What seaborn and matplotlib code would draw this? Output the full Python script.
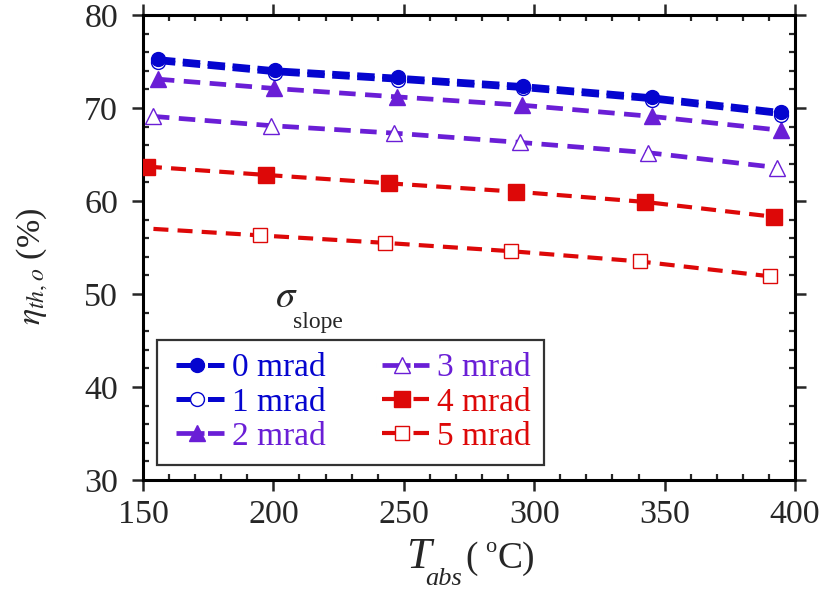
import matplotlib
matplotlib.use("Agg")
import matplotlib.pyplot as plt
from matplotlib.ticker import MultipleLocator
import seaborn as sns
import pandas as pd

# ---- data ----
labels = ["0 mrad", "1 mrad", "2 mrad", "3 mrad", "4 mrad", "5 mrad"]
x0 = [155.7, 200.8, 247.7, 295.8, 345.0, 394.7]
y0 = [75.3, 74.1, 73.3, 72.4, 71.2, 69.6]
x1 = [155.7, 200.8, 247.7, 295.8, 345.0, 394.7]
y1 = [75.0, 73.8, 73.0, 72.1, 70.9, 69.3]
x2 = [155.7, 200.4, 247.3, 295.4, 345.0, 394.7]
y2 = [73.1, 72.1, 71.2, 70.3, 69.1, 67.6]
x3 = [153.8, 199.2, 246.2, 294.6, 343.5, 393.0]
y3 = [69.1, 68.1, 67.3, 66.3, 65.2, 63.6]
x4 = [151.5, 197.3, 244.3, 293.1, 342.4, 392.0]
y4 = [63.7, 62.8, 61.9, 61.0, 59.9, 58.3]
x5 = [154.0, 195.0, 242.7, 291.2, 340.5, 390.5]
y5 = [57.0, 56.3, 55.5, 54.6, 53.5, 51.9]
xs = [x0, x1, x2, x3, x4, x5]
ys = [y0, y1, y2, y3, y4, y5]

blue = "#0505CF"
purple = "#6A1ED6"
red = "#DD0808"
colors = [blue, blue, purple, purple, red, red]

sns.set_style("ticks")
plt.rcParams["font.family"] = ["Liberation Serif", "DejaVu Serif"]
plt.rcParams["mathtext.fontset"] = "stix"

W, H = 824, 596
fig = plt.figure(figsize=(W / 100, H / 100), dpi=100)
ax = fig.add_axes([143 / W, 1 - 480 / H, (795 - 143) / W, (480 - 15) / H])


def fpx(x, y):
    return x / W, 1 - y / H


styles = [
    dict(marker="o", ms=10, mfc=blue, mec=blue, mew=1.0, lw=3.6, ls=(0, (3.5, 1.5)), z=6),
    dict(marker="o", ms=10, mfc="white", mec=blue, mew=1.0, lw=3.6, ls=(0, (3.5, 1.5)), z=5),
    dict(marker="^", ms=11, mfc=purple, mec=purple, mew=1.0, lw=3.4, ls=(0, (3.5, 2.0)), z=4),
    dict(marker="^", ms=11, mfc="white", mec=purple, mew=1.0, lw=3.4, ls=(0, (3.5, 2.0)), z=4),
    dict(marker="s", ms=11, mfc=red, mec=red, mew=1.0, lw=3.0, ls=(0, (3.6, 2.2)), z=4),
    dict(marker="s", ms=10, mfc="white", mec=red, mew=1.0, lw=3.0, ls=(0, (3.6, 2.2)), z=4),
]

for i in range(6):
    st = styles[i]
    df = pd.DataFrame({"T": xs[i], "eta": ys[i]})
    extra = {}
    if i == 5:
        extra["markevery"] = [1, 2, 3, 4, 5]
    sns.lineplot(data=df, x="T", y="eta", ax=ax, color=colors[i], label=labels[i],
                 marker=st["marker"], markersize=st["ms"], markerfacecolor=st["mfc"],
                 markeredgecolor=st["mec"], markeredgewidth=st["mew"],
                 linewidth=st["lw"], linestyle=st["ls"], zorder=st["z"],
                 sort=False, estimator=None, **extra)

ax.set_xlim(150, 400)
ax.set_ylim(30, 80)
ax.xaxis.set_major_locator(MultipleLocator(50))
ax.xaxis.set_minor_locator(MultipleLocator(10))
ax.yaxis.set_major_locator(MultipleLocator(10))
ax.yaxis.set_minor_locator(MultipleLocator(2))
ax.tick_params(which="major", direction="out", length=8, width=1.8, labelsize=24.5,
               top=True, right=True)
ax.tick_params(axis="x", which="major", pad=6)
ax.tick_params(axis="y", which="major", pad=10)
ax.tick_params(which="minor", direction="in", length=4, width=1.6, top=True, right=True)
for sp in ax.spines.values():
    sp.set_linewidth(2.2)
    sp.set_color("black")
    sp.set_visible(True)

ax.set_xlabel("")
ax.set_ylabel("")

# x label: T_abs ( oC)
fig.text(*fpx(406, 568), "T", fontsize=32, style="italic", ha="left", va="baseline")
fig.text(*fpx(425, 585), "abs", fontsize=19, style="italic", ha="left", va="baseline")
fig.text(*fpx(465, 568), "(", fontsize=27, ha="left", va="baseline")
fig.text(*fpx(485, 552), "o", fontsize=16, ha="left", va="baseline")
fig.text(*fpx(498, 568), "C)", fontsize=27, ha="left", va="baseline")

# y label
fig.text(*fpx(40, 266), r"$\eta_{th,o}$ (%)", fontsize=24.5, rotation=90,
         rotation_mode="anchor", ha="center", va="baseline")

# sigma_slope annotation
fig.text(*fpx(275, 307), r"$\sigma$", fontsize=28, ha="left", va="baseline")
fig.text(*fpx(293, 328), "slope", fontsize=17, ha="left", va="baseline")

leg = ax.legend(ncol=2, loc="lower left", bbox_to_anchor=(0.0215, 0.032),
                borderaxespad=0, fontsize=24, frameon=True, fancybox=False,
                handlelength=1.6, handletextpad=0.25, columnspacing=1.5,
                labelspacing=0.11, borderpad=0.4)
leg.get_frame().set_edgecolor("black")
leg.get_frame().set_linewidth(1.6)
for txt, c in zip(leg.get_texts(), colors):
    txt.set_color(c)
# legend handle dash pattern: short lead gap, long dash with marker, small gap, dash
for ln, st in zip(leg.get_lines(), styles):
    lw_px = st["lw"] * 100 / 72
    ln.set_linestyle((0, (0.001, 6 / lw_px, 28 / lw_px, 3.5 / lw_px, 40 / lw_px, 1)))

fig.savefig("out.png", dpi=100)
